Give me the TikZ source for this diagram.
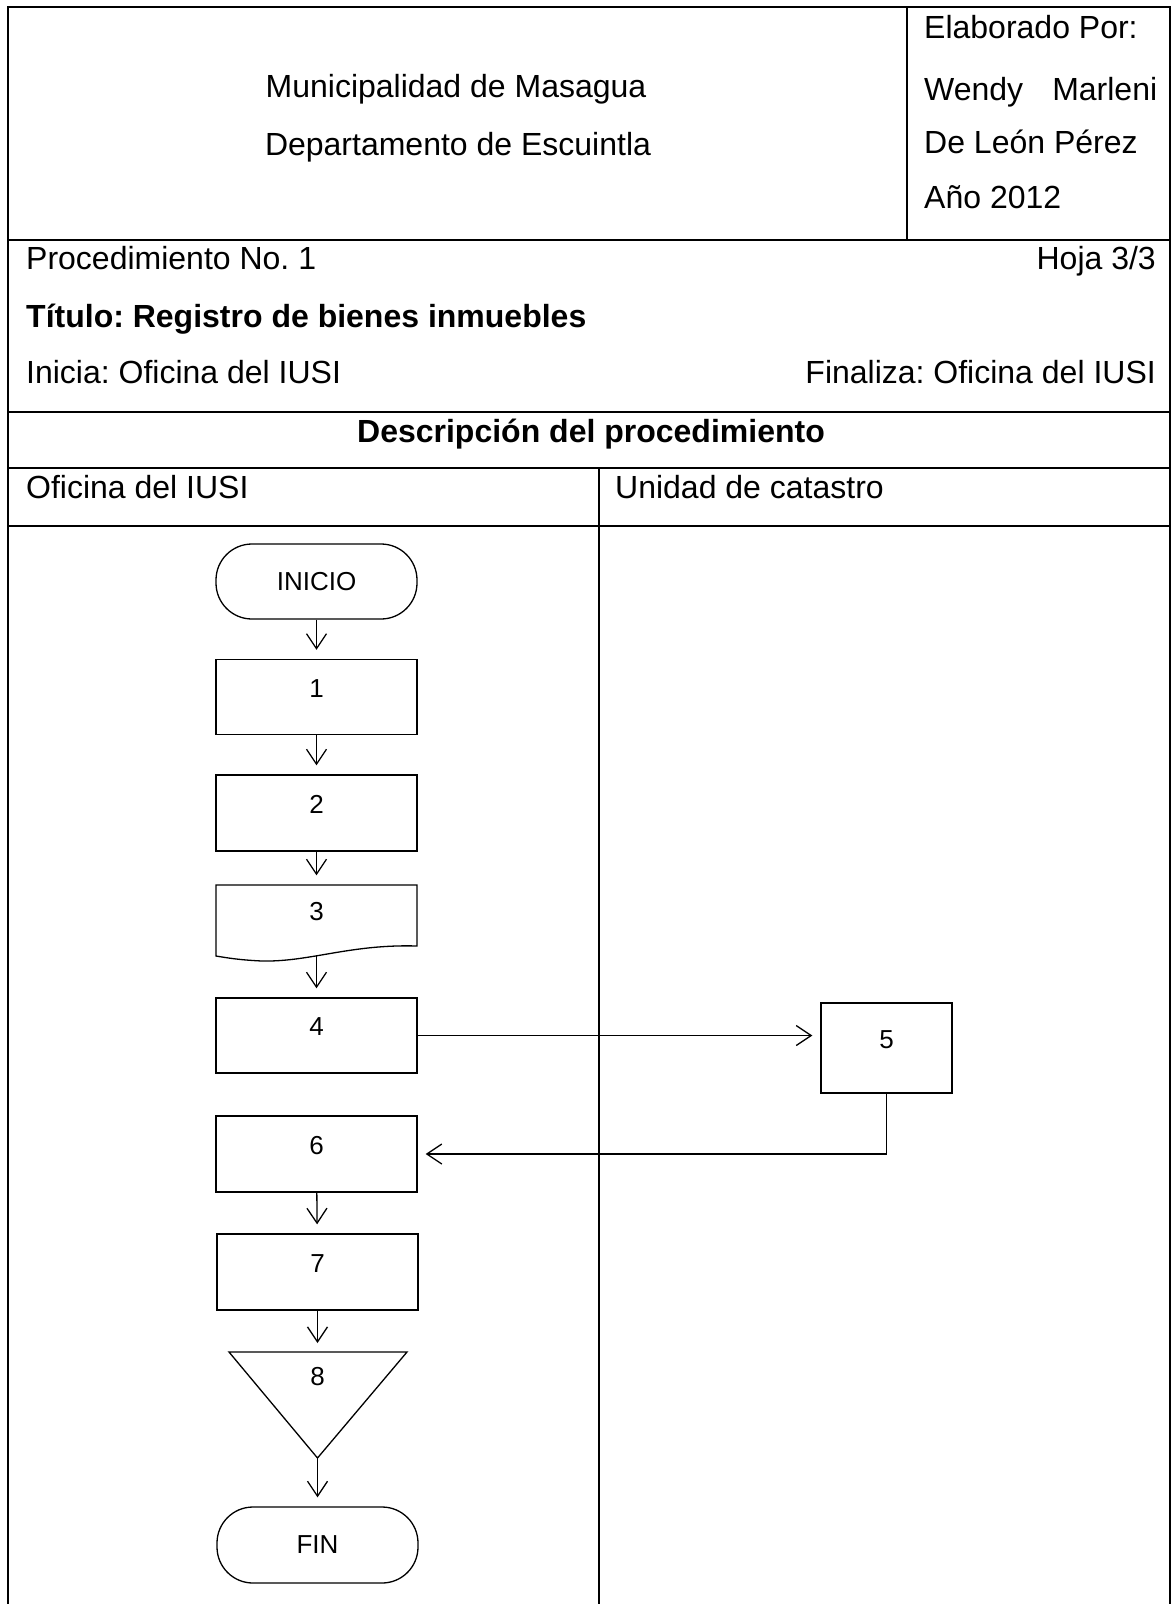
\documentclass[tikz,border=0pt]{standalone}
\usepackage{fontspec}
\setmainfont{Liberation Sans}
\usetikzlibrary{arrows.meta}
\frenchspacing

\begin{document}
\begin{tikzpicture}
    [
        x=1pt, y=-1pt,
        every node/.style={inner sep=0pt},
        rule/.style={line width=2pt},
        lane/.style={line width=1.6pt},
        head/.style={font=\fontsize{32}{36}\selectfont},
        box/.style={rectangle, draw, line width=1.3pt, minimum width=201pt, minimum height=75pt, font=\fontsize{26}{30}\selectfont},
        block/.style={box, text height=9pt, text depth=9pt},
        terminal/.style={box, rounded corners=36pt},
        flow/.style={-{Straight Barb[length=15pt,width=20pt]}, line width=1.3pt, shorten >=9pt},
    ]
    \useasboundingbox (0,0) rectangle (1173,1604);

    % frame
    \draw[rule] (8,1604) -- (8,7) -- (1170,7) -- (1170,1604);
    \draw[rule] (907,7) -- (907,240);
    \draw[rule] (8,240) -- (1170,240);
    \draw[rule] (8,412) -- (1170,412);
    \draw[rule] (8,468) -- (1170,468);
    \draw[rule] (8,526) -- (1170,526);
    \draw[lane] (599,468) -- (599,1604);

    % header
    \node (muni)   at (456,97)   [head, anchor=base] {Municipalidad de Masagua};
    \node (depto)  at (458,155)  [head, anchor=base] {Departamento de Escuintla};
    \node (elab)   at (924,38)   [head, anchor=base west] {Elaborado Por:};
    \node (autor1) at (924,100)  [head, anchor=base west] {\makebox[233pt][s]{Wendy Marleni}};
    \node (autor2) at (924,153)  [head, anchor=base west] {De León Pérez};
    \node (anio)   at (924,208)  [head, anchor=base west] {Año 2012};

    \node (proc)     at (26,269)   [head, anchor=base west] {Procedimiento No. 1};
    \node (hoja)     at (1156,269) [head, anchor=base east] {Hoja 3/3};
    \node (titulo)   at (26,327)   [head, anchor=base west] {\bfseries Título: Registro de bienes inmuebles};
    \node (inicia)   at (26,383)   [head, anchor=base west] {Inicia: Oficina del IUSI};
    \node (finaliza) at (1156,383) [head, anchor=base east] {Finaliza: Oficina del IUSI};
    \node (desc)     at (591,442)  [head, anchor=base] {\bfseries Descripción del procedimiento};
    \node (iusi)     at (26,498)   [head, anchor=base west] {Oficina del IUSI};
    \node (catastro) at (615,498)  [head, anchor=base west] {Unidad de catastro};

    % steps
    \node (inicio) at (316.5,581.5) [terminal] {INICIO};
    \node (1) at (316.5,697)  [block] {1};
    \node (2) at (316.5,813)  [block, minimum height=76pt] {2};
    \node (3) at (316.5,920)  [block, draw=none, minimum height=70pt] {3};
    \draw[line width=1.3pt] (216,885) -- (417,885) -- (417,946)
        .. controls (350,944) and (310,962) .. (262,961)
        .. controls (240,960) and (228,958) .. (216,956) -- cycle;
    \node (4) at (316.5,1035.5) [block] {4};
    \node (5) at (886.5,1048)   [block, minimum width=131pt, minimum height=90pt] {5};
    \node (6) at (316.5,1154)   [block, minimum height=76pt] {6};
    \node (7) at (317.5,1272)   [block, minimum height=76pt] {7};
    \coordinate (8top) at (317.5,1352);
    \coordinate (8l) at (229,1352);
    \coordinate (8r) at (407,1352);
    \coordinate (8b) at (317.5,1458);
    \draw[line width=1.3pt] (8l) -- (8r) -- (8b) -- cycle;
    \node (8) at (317.5,1377) [font=\fontsize{26}{30}\selectfont] {8};
    \node (fin) at (317.5,1545) [terminal, minimum height=76pt] {FIN};

    \path[flow]
    (inicio) edge (1)
    (1) edge (2)
    (2) edge (3)
    (3) edge (4)
    (6) edge (7)
    (7) edge (8top)
    (8b) edge (fin);

    \draw[flow, shorten >=8pt] (4.east) -- (4.east -| 5.west);
    \draw[flow, shorten >=8pt] (5.south) |- (6.east);

\end{tikzpicture}
\end{document}
